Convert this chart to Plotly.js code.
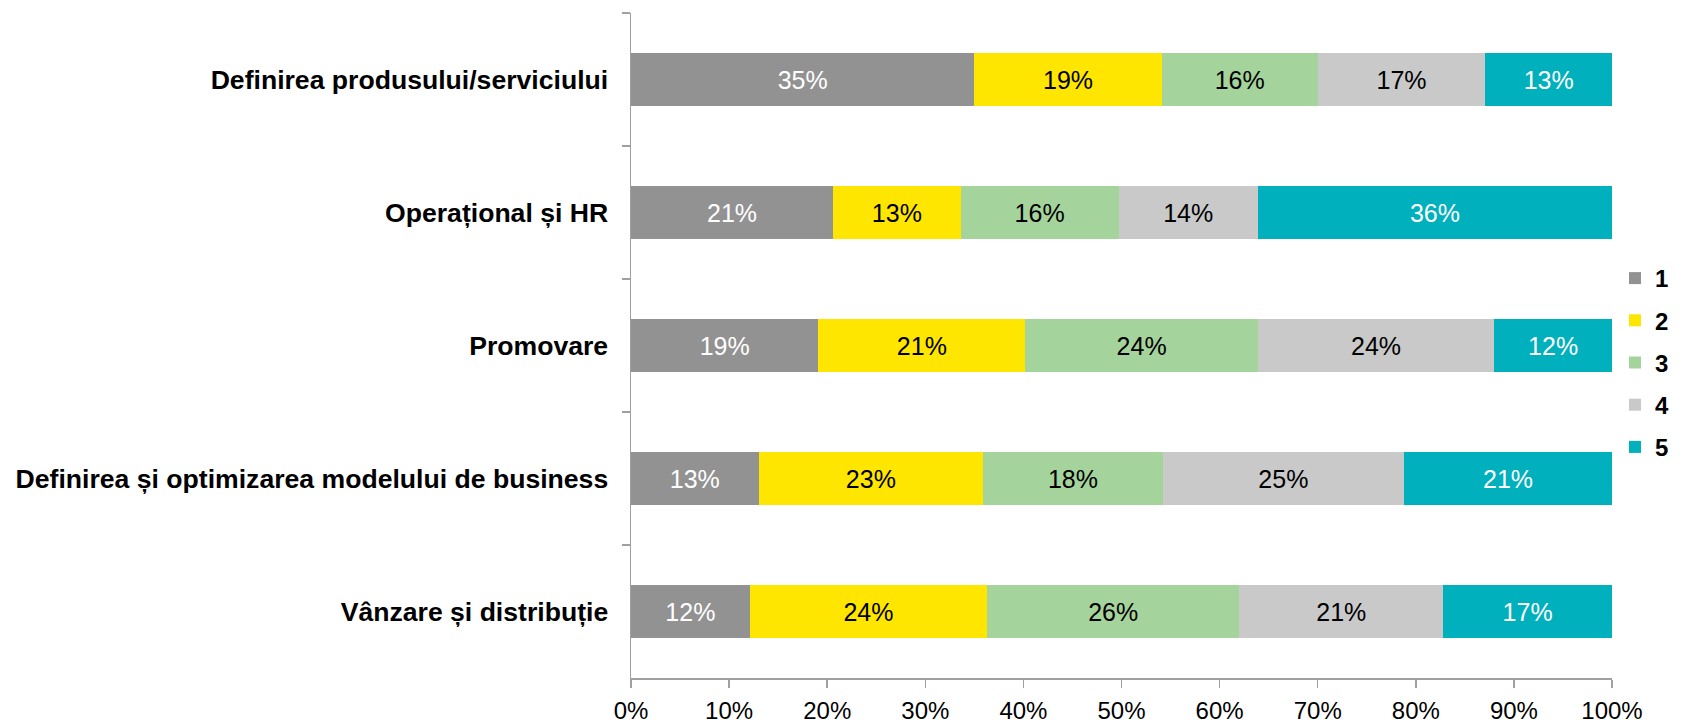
<!DOCTYPE html>
<html>
<head>
<meta charset="utf-8">
<script src="https://cdn.plot.ly/plotly-3.0.1.min.js"></script>
<style>html,body{margin:0;padding:0;background:#fff;}#chart{width:1694px;height:724px;}</style>
</head>
<body>
<div id="chart"></div>
<script>
const categories = [
  "Definirea produsului/serviciului",
  "Operațional și HR",
  "Promovare",
  "Definirea și optimizarea modelului de business",
  "Vânzare și distribuție"
];
const seriesNames = ["1", "2", "3", "4", "5"];
const s1 = [35.0, 20.6, 19.1, 13.0, 12.1];
const s2 = [19.1, 13.0, 21.1, 22.9, 24.2];
const s3 = [15.9, 16.1, 23.7, 18.3, 25.7];
const s4 = [17.1, 14.2, 24.1, 24.6, 20.8];
const s5 = [12.9, 36.1, 12.0, 21.2, 17.2];
const xTickVals = [0, 10, 20, 30, 40, 50, 60, 70, 80, 90, 100];
const xTickText = ["0%", "10%", "20%", "30%", "40%", "50%", "60%", "70%", "80%", "90%", "100%"];

const colors = ["#929292", "#FFE600", "#A5D39C", "#C9C9C9", "#00B0BC"];
const textColors = ["#ffffff", "#000000", "#000000", "#000000", "#ffffff"];
const allSeries = [s1, s2, s3, s4, s5];

const traces = allSeries.map((vals, i) => ({
  type: "bar",
  orientation: "h",
  name: seriesNames[i],
  legendgroup: "g" + i,
  y: categories,
  x: vals,
  marker: { color: colors[i], line: { width: 0 } },
  texttemplate: "%{x:.0f}%",
  textposition: "inside",
  insidetextanchor: "middle",
  constraintext: "none",
  textfont: { family: "Liberation Sans, Arial, sans-serif", size: 25, color: textColors[i] },
  hoverinfo: "none"
}));

const layout = {
  width: 1694,
  height: 724,
  margin: { l: 631, r: 82, t: 13, b: 46 },
  paper_bgcolor: "#ffffff",
  plot_bgcolor: "#ffffff",
  barmode: "stack",
  bargap: 0.6,
  showlegend: true,
  uniformtext: { mode: "show", minsize: 25 },
  font: { family: "Liberation Sans, Arial, sans-serif", color: "#000000" },
  xaxis: {
    range: [0, 100],
    tickvals: xTickVals,
    ticktext: xTickText,
    showgrid: false,
    zeroline: false,
    showline: true,
    linecolor: "#a0a0a0",
    linewidth: 1.5,
    ticks: "outside",
    ticklen: 8,
    tickwidth: 1.5,
    tickcolor: "#a0a0a0",
    ticklabelstandoff: 3,
    automargin: false,
    tickfont: { family: "Liberation Sans, Arial, sans-serif", size: 24, color: "#000000" },
    fixedrange: true
  },
  yaxis: {
    autorange: "reversed",
    type: "category",
    showgrid: false,
    zeroline: false,
    showline: true,
    linecolor: "#a0a0a0",
    linewidth: 1.5,
    ticks: "outside",
    tickson: "boundaries",
    ticklen: 8,
    tickwidth: 1.5,
    tickcolor: "#a0a0a0",
    ticklabelstandoff: 16,
    automargin: false,
    tickfont: { family: "Liberation Sans, Arial, sans-serif", size: 26.6, color: "#000000", weight: "bold" },
    fixedrange: true
  },
  legend: {
    xref: "container",
    yref: "container",
    x: 1615 / 1694,
    xanchor: "left",
    y: 0.4993,
    yanchor: "middle",
    traceorder: "grouped",
    tracegroupgap: 8,
    font: { family: "Liberation Sans, Arial, sans-serif", size: 24, color: "#000000", weight: "bold" },
    bgcolor: "rgba(0,0,0,0)"
  }
};

Plotly.newPlot("chart", traces, layout, { displayModeBar: false, staticPlot: true });
</script>
</body>
</html>
